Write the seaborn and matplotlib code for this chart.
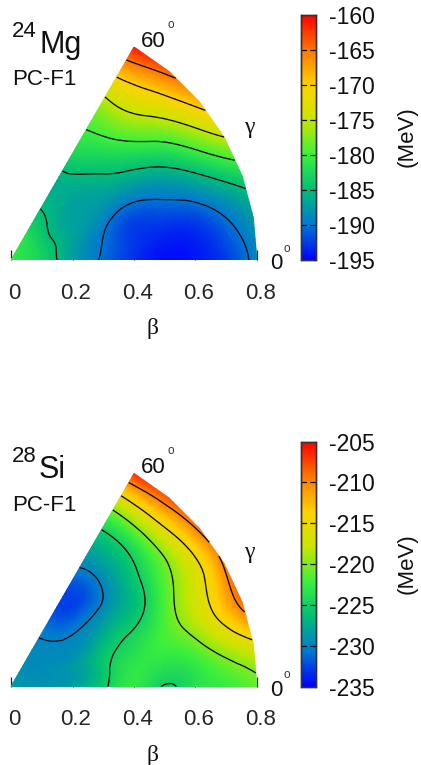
import numpy as np
import matplotlib
matplotlib.use("Agg")
import matplotlib.pyplot as plt
import matplotlib.tri as mtri
from matplotlib.cm import ScalarMappable
from matplotlib.colors import Normalize
from matplotlib.transforms import ScaledTranslation
import seaborn as sns

sns.set_style("white")
plt.rcParams["font.family"] = ["Liberation Sans", "DejaVu Sans"]
plt.rcParams["axes.unicode_minus"] = False

W, H = 421, 765

beta = [0.1, 0.2, 0.3, 0.4, 0.5, 0.6, 0.7, 0.8]
gamma = [0, 10, 20, 30, 40, 50, 60]
beta_ticks = [0, 0.2, 0.4, 0.6, 0.8]
beta_tick_labels = ["0", "0.2", "0.4", "0.6", "0.8"]

mg_origin = -180.5
mg_g0 = [-183.0, -187.0, -190.5, -193.0, -194.5, -194.0, -192.5, -189.0]
mg_g10 = [-183.0, -187.0, -190.0, -192.5, -193.3, -193.0, -190.7, -187.5]
mg_g20 = [-183.0, -186.5, -189.0, -191.5, -191.0, -189.5, -186.5, -183.0]
mg_g30 = [-183.0, -186.5, -187.5, -188.3, -187.5, -185.0, -180.5, -175.0]
mg_g40 = [-182.8, -186.3, -187.0, -185.8, -183.5, -180.0, -175.0, -168.5]
mg_g50 = [-182.5, -185.5, -186.2, -184.0, -180.6, -176.0, -171.0, -164.0]
mg_g60 = [-182.0, -185.2, -186.0, -182.6, -179.7, -175.7, -169.0, -161.0]

si_origin = -228.5
si_g0 = [-229.0, -228.0, -225.6, -222.8, -225.2, -223.5, -222.5, -221.0]
si_g10 = [-229.2, -228.8, -226.0, -223.2, -223.0, -222.0, -219.0, -215.8]
si_g20 = [-229.3, -228.8, -226.6, -224.5, -222.6, -219.5, -215.0, -209.0]
si_g30 = [-229.4, -229.5, -228.5, -226.6, -225.0, -220.5, -216.3, -209.6]
si_g40 = [-229.5, -229.7, -230.0, -229.3, -226.8, -222.7, -217.0, -209.3]
si_g50 = [-229.5, -230.1, -232.0, -231.5, -228.0, -224.0, -216.4, -208.0]
si_g60 = [-229.5, -230.3, -232.5, -231.5, -228.3, -224.4, -216.6, -206.5]

palette = ["#0000ff", "#0078d2", "#00be78", "#3cf03c", "#c8e600",
           "#ffd200", "#ff7800", "#ff0000"]
cmap = sns.blend_palette(palette, n_colors=256, as_cmap=True)


def grid_triangles():
    tris = []
    nb = len(beta)
    for j in range(len(gamma) - 1):
        tris.append([0, 1 + j * nb, 1 + (j + 1) * nb])
        for i in range(nb - 1):
            a = 1 + j * nb + i
            b = a + 1
            c = 1 + (j + 1) * nb + i
            d = c + 1
            tris.append([a, b, d])
            tris.append([a, d, c])
    return tris


def panel(fig, origin, rows, vmin, vmax, levels, ticks, y0, cb_top,
          sup, name, sup_xy, name_xy, pc_y, sixty_y, gamma_y, zero_y):
    bpx = 246.0
    ax_h = 0.8 * np.sin(np.radians(60)) * bpx / 0.8
    ax = fig.add_axes([11 / W, 1 - y0 / H, bpx / W, ax_h / H])
    xs, ys, zs = [0.0], [0.0], [origin]
    for g, row in zip(gamma, rows):
        for b, z in zip(beta, row):
            xs.append(b * np.cos(np.radians(g)))
            ys.append(b * np.sin(np.radians(g)))
            zs.append(z)
    tri = mtri.Triangulation(xs, ys, grid_triangles())
    fine, zfine = mtri.UniformTriRefiner(tri).refine_field(np.array(zs), subdiv=3)
    norm = Normalize(vmin, vmax)
    ax.tripcolor(fine, zfine, shading="gouraud", cmap=cmap, norm=norm, rasterized=True)
    ax.tricontour(fine, zfine, levels=levels, colors="#0a0a0a", linewidths=0.95,
                  linestyles="solid")
    ax.set_xlim(0, 0.8)
    ax.set_ylim(0, 0.8 * np.sin(np.radians(60)))
    ax.set_yticks([])
    ax.set_xticks(beta_ticks)
    ax.set_xticklabels(beta_tick_labels, fontsize=16)
    ax.tick_params(axis="x", direction="in", length=7, width=0.9, color="#222222",
                   pad=16.5, bottom=True)
    off = ScaledTranslation(3.5 / 100, 0, fig.dpi_scale_trans)
    for lab in ax.get_xticklabels():
        lab.set_transform(lab.get_transform() + off)
    for s in ax.spines.values():
        s.set_visible(False)
    ax.patch.set_alpha(0)

    def t(x, y, s, **kw):
        kw.setdefault("fontsize", 16)
        kw.setdefault("color", "#111111")
        fig.text(x / W, 1 - y / H, s, ha=kw.pop("ha", "left"), va="baseline", **kw)

    t(sup_xy[0], sup_xy[1], sup)
    t(name_xy[0], name_xy[1], name, fontsize=22)
    t(12, pc_y, "PC-F1")
    t(140.5, sixty_y, "60")
    t(167, sixty_y - 19, "o", fontsize=8.5, color="#333333")
    t(270, zero_y, "0")
    t(283, zero_y - 17, "o", fontsize=8.5, color="#333333")
    t(244, gamma_y, "γ", family="Liberation Serif", fontsize=17)
    t(146, y0 + 74, "β", family="Liberation Serif", fontsize=17)

    cax = fig.add_axes([301 / W, 1 - (y0) / H, 14.5 / W, (y0 - cb_top) / H])
    fig.colorbar(ScalarMappable(norm=norm, cmap=cmap), cax=cax, ticks=ticks, format="%d")
    cax.tick_params(axis="y", length=0, pad=10, labelsize=16.5, labelcolor="#111111")
    cax.hlines(ticks[1:-1], 0, 1, transform=cax.get_yaxis_transform(),
               colors="#111111", linewidth=0.9, linestyles=(0, (4.5, 2.5)))
    for s in cax.spines.values():
        s.set_linewidth(1.0)
        s.set_edgecolor("#333333")
        s.set_visible(True)
    fig.text(407 / W, 1 - (y0 + cb_top - 1) / 2 / H, "(MeV)", rotation=90, fontsize=16,
             ha="center", va="center", color="#111111")


fig = plt.figure(figsize=(W / 100, H / 100), dpi=100, facecolor="white")

panel(fig, mg_origin, [mg_g0, mg_g10, mg_g20, mg_g30, mg_g40, mg_g50, mg_g60],
      -195, -160, [-190, -185, -180, -175, -170, -165],
      [-195, -190, -185, -180, -175, -170, -165, -160], 260, 15,
      "24", "Mg", (12, 37), (39, 53), 85, 47, 133, 269)
panel(fig, si_origin, [si_g0, si_g10, si_g20, si_g30, si_g40, si_g50, si_g60],
      -235, -205, [-230, -225, -220, -215, -210],
      [-235, -230, -225, -220, -215, -210, -205], 686.5, 441.5,
      "28", "Si", (12, 462), (39, 478), 511, 473, 558, 695.5)

fig.savefig("out.png", dpi=100)
